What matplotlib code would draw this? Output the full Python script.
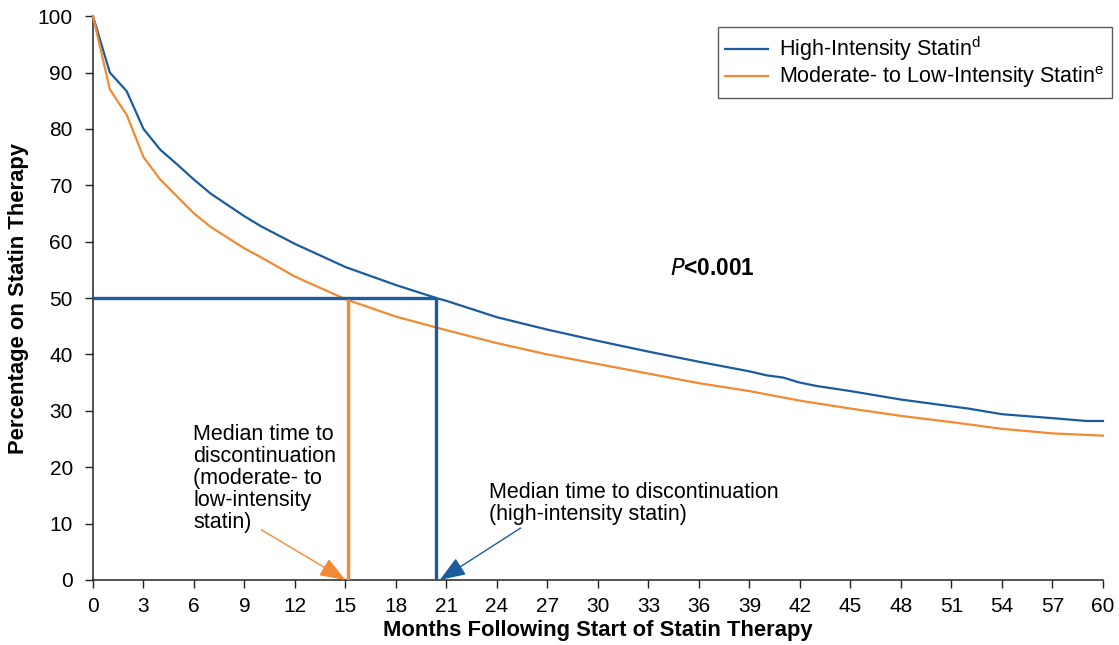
import matplotlib
matplotlib.use("Agg")
import matplotlib.pyplot as plt

plt.rcParams['font.family'] = ['Liberation Sans', 'DejaVu Sans']

months_high = [0, 1, 2, 3, 4, 5, 6, 7, 8, 9, 10, 12, 15, 18, 20.4, 21, 24, 27, 30, 33, 36, 39, 40, 41, 42, 43, 45, 48, 51, 52, 53, 54, 57, 59, 60]
pct_high = [100, 90, 86.7, 80, 76.3, 73.7, 71, 68.5, 66.5, 64.5, 62.7, 59.6, 55.5, 52.3, 50, 49.5, 46.6, 44.4, 42.4, 40.5, 38.7, 37, 36.3, 35.9, 35, 34.4, 33.5, 32, 30.8, 30.4, 29.9, 29.4, 28.7, 28.2, 28.2]

months_mod = [0, 1, 2, 3, 4, 5, 6, 7, 8, 9, 10, 12, 15, 18, 21, 24, 27, 30, 33, 36, 39, 42, 45, 48, 51, 54, 57, 60]
pct_mod = [100, 87, 82.5, 75, 71, 68, 65, 62.6, 60.7, 58.8, 57.2, 53.8, 49.8, 46.7, 44.3, 42, 40, 38.3, 36.6, 34.9, 33.5, 31.8, 30.4, 29.1, 28, 26.8, 26, 25.6]

median_high = 20.35
median_mod = 15.15
xticks = list(range(0, 61, 3))
yticks = list(range(0, 101, 10))

BLUE = '#1b5c9e'
ORANGE = '#f28a33'

fig = plt.figure(figsize=(11.19, 6.45), dpi=100)
ax = fig.add_axes([0.0831, 0.1008, 0.9026, 0.8742])

ax.plot(months_high, pct_high, color=BLUE, lw=1.6, label='High-Intensity Statin$^{\\mathregular{d}}$', clip_on=False, zorder=3)
ax.plot(months_mod, pct_mod, color=ORANGE, lw=1.6, label='Moderate- to Low-Intensity Statin$^{\\mathregular{e}}$', clip_on=False, zorder=3)

# median lines
ax.plot([0, median_high], [50, 50], color=BLUE, lw=2.4, zorder=4, solid_capstyle='butt')
ax.plot([median_high, median_high], [0, 50], color=BLUE, lw=2.4, zorder=4, solid_capstyle='butt')
ax.plot([median_mod, median_mod], [0, 49.8], color=ORANGE, lw=2.4, zorder=4, solid_capstyle='butt')

ax.set_xlim(0, 60)
ax.set_ylim(0, 100)
ax.set_xticks(xticks)
ax.set_yticks(yticks)
ax.tick_params(direction='out', length=6, width=1, labelsize=15, color='#222222')
ax.tick_params(axis='x', pad=6)
ax.tick_params(axis='y', pad=8.5)
for s in ['top', 'right']:
    ax.spines[s].set_visible(False)
for s in ['left', 'bottom']:
    ax.spines[s].set_linewidth(1.1)
    ax.spines[s].set_color('#222222')

ax.set_xlabel('Months Following Start of Statin Therapy', fontsize=15.8, fontweight='bold', labelpad=3)
ax.set_ylabel('Percentage on Statin Therapy', fontsize=15.8, fontweight='bold', labelpad=6)

ax.text(34.3, 55.3, '$\\mathbf{\\mathit{P}}$<0.001', fontsize=16.3, fontweight='bold', ha='left', va='center')

ax.text(5.95, 27.6, 'Median time to\ndiscontinuation\n(moderate- to\nlow-intensity\nstatin)',
        fontsize=15.5, ha='left', va='top', linespacing=1.05)
ax.text(23.5, 17.4, 'Median time to discontinuation\n(high-intensity statin)', fontsize=15.5,
        ha='left', va='top', linespacing=1.05)

arrow_style = '-|>,head_length=0.8,head_width=0.3'
ax.annotate('', xy=(15.0, 0), xytext=(10.0, 8.9), annotation_clip=False,
            arrowprops=dict(arrowstyle=arrow_style, color=ORANGE, lw=1, mutation_scale=20,
                            shrinkA=0, shrinkB=0))
ax.annotate('', xy=(20.6, 0), xytext=(25.4, 9.2), annotation_clip=False,
            arrowprops=dict(arrowstyle=arrow_style, color=BLUE, lw=1, mutation_scale=20,
                            shrinkA=0, shrinkB=0))

leg = ax.legend(loc='upper right', bbox_to_anchor=(1.009, 0.9805), fontsize=15.5, frameon=True,
                fancybox=False, edgecolor='#333333', handlelength=2.0, borderpad=0.35,
                labelspacing=0.05, handletextpad=0.5, borderaxespad=0)
leg.get_frame().set_linewidth(1.0)

fig.savefig('out.png', dpi=100)
